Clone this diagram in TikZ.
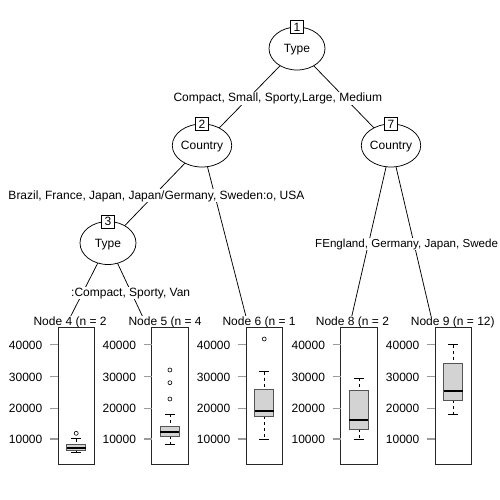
\documentclass[tikz,border=0pt]{standalone}
\usepackage{fontspec}
\setmainfont{Liberation Sans}
\usetikzlibrary{shapes.geometric,backgrounds}
\definecolor{boxfill}{HTML}{D3D3D3}
\definecolor{boxedge}{HTML}{555555}
\definecolor{tickgray}{HTML}{9A9A9A}
\begin{document}
\begin{tikzpicture}[x=1pt,y=-1pt,
  font=\fontsize{12}{14}\selectfont,
  line width=0.75pt,
  innernode/.style={ellipse,draw=black,fill=white,minimum width=56pt,minimum height=43pt,inner sep=0pt,text height=8.6pt,text depth=0pt},
  idbox/.style={draw=black,fill=white,minimum width=13pt,minimum height=13pt,inner sep=0pt,text height=8.6pt,text depth=0pt},
  edgelbl/.style={fill=white,inner sep=1pt,anchor=base west},
  termlbl/.style={fill=white,inner sep=1pt,anchor=base west},
  ticklbl/.style={inner sep=0pt,anchor=base east},
  treeedge/.style={draw=black,line width=0.75pt},
  panel/.style={draw=black!85,line width=0.75pt},
  tickmark/.style={draw=tickgray,line width=1.2pt},
  bpbox/.style={draw=boxedge,fill=boxfill,line width=0.75pt},
  medianline/.style={draw=black,line width=2pt},
  whisker/.style={draw=black,dash pattern=on 3pt off 3pt,line width=0.75pt},
  wcap/.style={draw=black,line width=0.75pt},
  outlier/.style={draw=black,line width=0.6pt}
]
\useasboundingbox (0,0) rectangle (500,500);

% inner nodes
\node[innernode] (n1) at (297,48.5) {Type};
\node[idbox] (b1) at (297,27) {1};
\node[innernode] (n2) at (202,145.5) {Country};
\node[idbox] (b2) at (202,124) {2};
\node[innernode] (n7) at (391,145.5) {Country};
\node[idbox] (b7) at (391,124) {7};
\node[innernode] (n3) at (108,243) {Type};
\node[idbox] (b3) at (108,221.5) {3};

% free ends of the connectors to the terminal nodes
\coordinate (e4) at (70.3,317);
\coordinate (e5) at (142.8,317);
\coordinate (e6) at (246.1,317);
\coordinate (e8) at (351.6,317);
\coordinate (e9) at (431.2,317);

\begin{pgfonlayer}{background}
  \fill[white] (0,0) rectangle (500,500);
  \draw[treeedge] (n1.center) -- (n2.center);
  \draw[treeedge] (n1.center) -- (n7.center);
  \draw[treeedge] (n2.center) -- (n3.center);
  \draw[treeedge] (n2.center) -- (e6);
  \draw[treeedge] (n3.center) -- (e4);
  \draw[treeedge] (n3.center) -- (e5);
  \draw[treeedge] (n7.center) -- (e8);
  \draw[treeedge] (n7.center) -- (e9);
\end{pgfonlayer}

% edge labels
\node[edgelbl] (el1) at (172.3,102) {Compact, Small, Sporty,Large, Medium};
\node[edgelbl] (el2) at (7.3,199) {Brazil, France, Japan, Japan/Germany, Sweden:o, USA};
\node[edgelbl,font=\fontsize{11.6}{14}\selectfont] (el7) at (314,247) {FEngland, Germany, Japan, Swede};
\node[edgelbl] (el3) at (70,296) {:Compact, Sporty, Van};

% terminal labels
\node[termlbl] (l4) at (32.3,325.5) {Node 4 (n = 2};
\node[termlbl] (l5) at (127.3,325.5) {Node 5 (n = 4};
\node[termlbl] (l6) at (221.3,325.5) {Node 6 (n = 1};
\node[termlbl] (l8) at (314.7,325.5) {Node 8 (n = 2};
\node[termlbl] (l9) at (409.7,325.5) {Node 9 (n = 12)};

% terminal panels with boxplots
\foreach \i/\L/\bt/\bb/\md/\uc/\lc in {4/58/444/450.5/448/438.5/452.3,
    5/151.7/426.7/436/432.3/414.3/444,
    6/246/389.3/416/411/371.7/439,
    8/340.7/390.7/429/420/378.3/439,
    9/435/363.3/400/390.7/344.7/414.3}{
  \pgfmathsetmacro{\R}{\L+36.5}
  \pgfmathsetmacro{\bl}{\L+8.7}
  \pgfmathsetmacro{\br}{\L+27.7}
  \pgfmathsetmacro{\cx}{\L+18.2}
  \draw[panel] (\L,327.3) rectangle (\R,464);
  \foreach \v/\ty in {40000/344.7,30000/376.7,20000/408.3,10000/439}{
    \draw[tickmark] (\L-8,\ty) -- (\L,\ty);
    \node[ticklbl] (tk\i-\v) at (\L-15.5,\ty+4.3) {\v};
  }
  \draw[whisker] (\cx,\uc) -- (\cx,\bt);
  \draw[whisker] (\cx,\bb) -- (\cx,\lc);
  \draw[wcap] (\cx-4.75,\uc) -- (\cx+4.75,\uc);
  \draw[wcap] (\cx-4.75,\lc) -- (\cx+4.75,\lc);
  \draw[bpbox] (\bl,\bt) rectangle (\br,\bb);
  \draw[medianline] (\bl,\md) -- (\br,\md);
}

% outliers
\draw[outlier] (76.2,433.3) circle (2pt);
\draw[outlier] (169.9,370) circle (2pt);
\draw[outlier] (169.9,382.7) circle (2pt);
\draw[outlier] (169.9,399) circle (2pt);
\draw[outlier] (264.2,339) circle (2pt);
\end{tikzpicture}
\end{document}
